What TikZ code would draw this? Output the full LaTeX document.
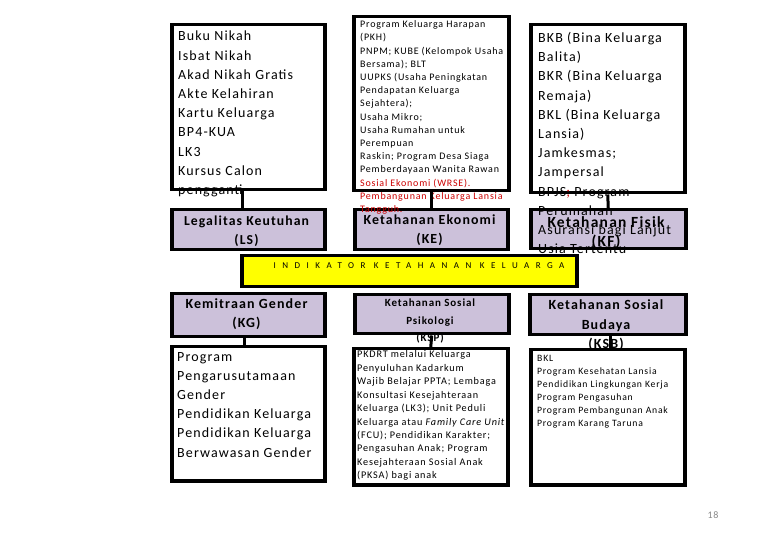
\documentclass[tikz,border=0pt]{standalone}
\usepackage{fontspec}
\setmainfont{Carlito}[LetterSpace=8]
\definecolor{catfill}{RGB}{204,193,218}
\definecolor{bandfill}{RGB}{255,255,0}
\definecolor{redtext}{RGB}{204,0,0}
\definecolor{pagegray}{RGB}{137,137,137}

\begin{document}
\begin{tikzpicture}[x=1pt, y=-1pt,
  box/.style={draw, line width=3.5pt, fill=white, anchor=north west, inner sep=0pt},
  catbox/.style={box, fill=catfill},
  bigtxt/.style={anchor=north west, inner sep=0pt, align=left, font=\fontsize{14}{19.2}\selectfont},
  smalltxt/.style={anchor=north west, inner sep=0pt, align=left, font=\fontsize{10}{13.2}\selectfont},
  cattxt/.style={anchor=north, inner sep=0pt, align=center, font=\bfseries\fontsize{14}{19}\selectfont},
  link/.style={line width=3pt}]
\useasboundingbox[fill=white] (0,0) rectangle (780,540);
% boxes
\node[box, minimum width=153, minimum height=165] (lsbox) at (170,23) {};
\node[box, minimum width=155, minimum height=174] (kebox) at (352,15) {};
\node[box, minimum width=154, minimum height=168] (kfbox) at (529,23) {};
\node[catbox, minimum width=153, minimum height=40] (ls) at (170,208) {};
\node[catbox, minimum width=153, minimum height=40] (ke) at (353,208) {};
\node[catbox, minimum width=155, minimum height=39] (kf) at (529,208) {};
\node[box, fill=bandfill, minimum width=335, minimum height=31] (band) at (240,254) {};
\node[catbox, minimum width=153, minimum height=43] (kg) at (170,292) {};
\node[catbox, minimum width=154, minimum height=39] (ksp) at (353,293) {};
\node[catbox, minimum width=156, minimum height=40] (ksb) at (528,293) {};
\node[box, minimum width=153, minimum height=134] (kgbox) at (170,345) {};
\node[box, minimum width=154, minimum height=136] (kspbox) at (352,347) {};
\node[box, minimum width=154, minimum height=135] (ksbbox) at (529,348) {};
% texts
\node[bigtxt] (lstxt) at (178,31) {Buku Nikah\\Isbat Nikah\\Akad Nikah Gratis\\Akte Kelahiran\\Kartu Keluarga\\BP4-KUA\\LK3\\Kursus Calon\\pengganti};
\node[smalltxt] (ketxt) at (360,20.5) {Program Keluarga Harapan\\(PKH)\\PNPM; KUBE (Kelompok Usaha\\Bersama); BLT\\UUPKS (Usaha Peningkatan\\Pendapatan Keluarga\\Sejahtera);\\Usaha Mikro;\\Usaha Rumahan untuk\\Perempuan\\Raskin; Program Desa Siaga\\Pemberdayaan Wanita Rawan\\\textcolor{redtext}{Sosial Ekonomi (WRSE).}\\\textcolor{redtext}{Pembangunan Keluarga Lansia}\\\textcolor{redtext}{Tangguh.}};
\node[bigtxt] (kftxt) at (538,32) {BKB (Bina Keluarga\\Balita)\\BKR (Bina Keluarga\\Remaja)\\BKL (Bina Keluarga\\Lansia)\\Jamkesmas;\\Jampersal\\BPJS\textcolor{redtext}{;} Program\\Perumahan\\Asuransi bagi Lanjut\\Usia Tertentu};
\node[cattxt, font=\bfseries\fontsize{13.7}{19}\selectfont] (lstitle) at (246.5,216) {Legalitas Keutuhan\\(LS)};
\node[cattxt, font=\bfseries\fontsize{13.9}{19}\selectfont] (ketitle) at (429.5,215) {Ketahanan Ekonomi\\(KE)};
\node[cattxt, font=\bfseries\fontsize{15.5}{19.5}\selectfont] (kftitle) at (606,216) {Ketahanan Fisik\\(KF)};
\node[anchor=north, inner sep=0pt, font=\fontsize{9}{10}\selectfont\addfontfeature{LetterSpace=72}] (bandtxt) at (419,262) {INDIKATOR\ KETAHANAN\ KELUARGA};
\node[cattxt] (kgtitle) at (246.5,298.5) {Kemitraan Gender\\(KG)};
\node[cattxt, font=\bfseries\fontsize{11}{17.5}\selectfont] (ksptitle) at (430,299) {Ketahanan Sosial\\Psikologi\\(KSP)};
\node[cattxt, font=\bfseries\fontsize{14}{19.5}\selectfont] (ksbtitle) at (606,299.5) {Ketahanan Sosial\\Budaya\\(KSB)};
\node[bigtxt] (kgtxt) at (177,352) {Program\\Pengarusutamaan\\Gender\\Pendidikan Keluarga\\Pendidikan Keluarga\\Berwawasan Gender};
\node[smalltxt, font=\fontsize{10.2}{13.45}\selectfont] (ksptxt) at (357,350.5) {PKDRT melalui Keluarga\\Penyuluhan Kadarkum\\Wajib Belajar PPTA; Lembaga\\Konsultasi Kesejahteraan\\Keluarga (LK3); Unit Peduli\\Keluarga atau \textit{Family Care Unit}\\(FCU); Pendidikan Karakter;\\Pengasuhan Anak; Program\\Kesejahteraan Sosial Anak\\(PKSA) bagi anak};
\node[smalltxt, font=\fontsize{9.7}{13}\selectfont] (ksbtxt) at (537,355.5) {BKL\\Program Kesehatan Lansia\\Pendidikan Lingkungan Kerja\\Program Pengasuhan\\Program Pembangunan Anak\\Program Karang Taruna};
\node[text=pagegray, font=\fontsize{10}{12}\selectfont] (pagenr) at (713,515) {18};
% connectors
\draw[link] ([xshift=-6]lsbox.south) -- ([xshift=-6]ls.north);
\draw[link] (kebox.south) -- (ke.north);
\draw[link] (kfbox.south) -- (kf.north);
\draw[link] ([xshift=-4]kg.south) -- ([xshift=-4]kgbox.north);
\draw[link] (ksp.south) -- (kspbox.north);
\draw[link] ([xshift=3]ksb.south) -- ([xshift=3]ksbbox.north);
\end{tikzpicture}
\end{document}
